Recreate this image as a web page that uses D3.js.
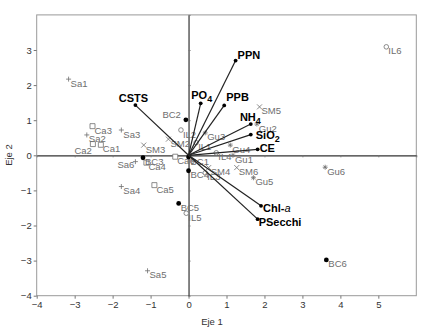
<!DOCTYPE html>
<html>
<head>
<meta charset="utf-8">
<script src="https://cdn.jsdelivr.net/npm/d3@7"></script>
<style>
  body { margin: 0; background: #fff; }
  text { font-family: "Liberation Sans", Arial, sans-serif; }
</style>
</head>
<body>
<div class="box"></div>
<script>
// sites (scores on Eje 1 / Eje 2)
const siteNames = ['Sa1','Sa2','Sa3','Sa4','Sa5','Sa6',
                   'Ca1','Ca2','Ca3','Ca4','Ca5','Ca6',
                   'BC1','BC2','BC3','BC4','BC5','BC6',
                   'IL1','IL2','IL3','IL4','IL5','IL6',
                   'Gu1','Gu2','Gu3','Gu4','Gu5','Gu6',
                   'SM2','SM3','SM4','SM5','SM6'];
const siteX = [-3.16,-2.68,-1.77,-1.77,-1.08,-1.40,
               -2.31,-2.52,-2.53,-1.11,-0.90,-0.35,
                0.00,-0.07,-1.20, 0.00,-0.26, 3.63,
                0.20,-0.20, 0.44, 0.73,-0.06, 5.21,
                1.17, 1.80, 0.44, 1.10, 1.71, 3.60,
               -0.53,-1.18, 0.53, 1.87, 1.27];
const siteY = [ 2.17, 0.58, 0.72,-0.89,-3.29,-0.18,
                0.30, 0.32, 0.83,-0.21,-0.85,-0.04,
               -0.05, 1.01,-0.07,-0.44,-1.37,-2.98,
                0.36, 0.72,-0.50, 0.07,-1.65, 3.09,
                0.00, 0.89, 0.64, 0.29,-0.64,-0.34,
                0.46, 0.29,-0.35, 1.38,-0.35];

// environmental vectors
const varNames = ['PPN','PO4','PPB','NH4','SiO2','CE','Chl-a','PSecchi','CSTS'];
const varX = [1.24, 0.32, 0.94, 1.64, 1.64, 1.82, 1.91, 1.82, -1.40];
const varY = [2.70, 1.48, 1.42, 0.89, 0.59, 0.17,-1.44,-1.82,  1.43];

const xTicks = [-4,-3,-2,-1,0,1,2,3,4,5];
const yTicks = [-4,-3,-2,-1,0,1,2,3];

const width = 427, height = 332;
const svg = d3.select('.box').append('svg')
              .attr('width', width)
              .attr('height', height);

const x = d3.scaleLinear().domain([-4, 6]).range([36.7, 416.3]);
const y = d3.scaleLinear().domain([-4, 4]).range([295.7, 14.9]);

// frame
svg.append('rect')
   .attr('x', x(-4)).attr('y', y(4))
   .attr('width', x(6) - x(-4)).attr('height', y(-4) - y(4))
   .attr('fill', 'none').attr('stroke', '#999').attr('stroke-width', 1);

// outer axes
const axB = svg.append('g').attr('transform', `translate(0,${y(-4)})`)
   .call(d3.axisBottom(x).tickValues(xTicks).tickSize(3).tickPadding(3));
const axL = svg.append('g').attr('transform', `translate(${x(-4)},0)`)
   .call(d3.axisLeft(y).tickValues(yTicks).tickSize(3).tickPadding(2));
[axB, axL].forEach(g => {
  g.select('.domain').remove();
  g.selectAll('line').attr('stroke', '#777');
  g.selectAll('text').attr('fill', '#333').style('font-size', '9.5px');
});

// zero lines
const zx = svg.append('g').attr('transform', `translate(0,${y(0)})`)
   .call(d3.axisBottom(x).tickValues(d3.range(-4, 7)).tickSizeInner(2).tickSizeOuter(0).tickFormat(''));
const zy = svg.append('g').attr('transform', `translate(${x(0)},0)`)
   .call(d3.axisRight(y).tickValues(d3.range(-4, 5)).tickSizeInner(2).tickSizeOuter(0).tickFormat(''));
[zx, zy].forEach(g => {
  g.select('.domain').attr('stroke', '#333').attr('stroke-width', 1.2);
  g.selectAll('line').attr('stroke', '#777');
});

// axis titles
svg.append('text').attr('x', 212).attr('y', 325).attr('text-anchor', 'middle')
   .attr('fill', '#333').style('font-size', '9.5px').text('Eje 1');
svg.append('text').attr('transform', 'translate(12,155) rotate(-90)').attr('text-anchor', 'middle')
   .attr('fill', '#333').style('font-size', '9.5px').text('Eje 2');

// site markers
const grey = '#6e6e6e';
const sites = siteNames.map((n, i) => ({name: n, x: siteX[i], y: siteY[i], grp: n.slice(0, 2)}));
const s = 2.5;
const shape = {
  Sa: `M${-s},0H${s}M0,${-s}V${s}`,
  SM: `M${-s},${-s}L${s},${s}M${-s},${s}L${s},${-s}`,
  Gu: `M${-s},0H${s}M0,${-s}V${s}M${-s*0.7},${-s*0.7}L${s*0.7},${s*0.7}M${-s*0.7},${s*0.7}L${s*0.7},${-s*0.7}`,
  Ca: `M${-s},${-s}H${s}V${s}H${-s}Z`
};

const pts = svg.append('g');
sites.forEach(d => {
  const g = pts.append('g').attr('transform', `translate(${x(d.x)},${y(d.y)})`);
  if (d.grp === 'BC') {
    g.append('circle').attr('r', 2.4).attr('fill', '#000');
  } else if (d.grp === 'IL') {
    g.append('circle').attr('r', 2.3).attr('fill', '#fff').attr('stroke', grey).attr('stroke-width', 0.8);
  } else {
    g.append('path').attr('d', shape[d.grp]).attr('fill', d.grp === 'Ca' ? '#fff' : 'none')
     .attr('stroke', grey).attr('stroke-width', 0.8);
  }
});

// label placement tweaks
const leftLabel = {Ca2: [-1, 9.5], Sa6: [-1, 6.5], BC2: [-5, -1.5]};
const lbl = svg.append('g');
sites.forEach(d => {
  const o = leftLabel[d.name];
  lbl.append('text')
     .attr('x', x(d.x) + (o ? o[0] : 2))
     .attr('y', y(d.y) + (o ? o[1] : 7.5))
     .attr('text-anchor', o ? 'end' : 'start')
     .attr('fill', grey).style('font-size', '9.5px')
     .text(d.name);
});

// vectors
const vecs = varNames.map((n, i) => ({name: n, x: varX[i], y: varY[i]}));
const vg = svg.append('g');
vg.selectAll('line').data(vecs).enter().append('line')
  .attr('x1', x(0)).attr('y1', y(0))
  .attr('x2', d => x(d.x)).attr('y2', d => y(d.y))
  .attr('stroke', '#222').attr('stroke-width', 1.2);
vg.selectAll('circle').data(vecs).enter().append('circle')
  .attr('cx', d => x(d.x)).attr('cy', d => y(d.y)).attr('r', 1.9).attr('fill', '#000');

const vOff = {
  'PPN': [2, -2, 'start'], 'PO4': [1, -4, 'middle'], 'PPB': [2, -4, 'start'],
  'NH4': [10, -3, 'end'], 'SiO2': [5, 4, 'start'], 'CE': [2, 3, 'start'],
  'Chl-a': [2, 6, 'start'], 'PSecchi': [1, 7, 'start'], 'CSTS': [-2, -3, 'middle']
};
vecs.forEach(d => {
  const o = vOff[d.name];
  const t = vg.append('text')
    .attr('x', x(d.x) + o[0]).attr('y', y(d.y) + o[1])
    .attr('text-anchor', o[2]).attr('fill', '#000')
    .style('font-size', '11px').style('font-weight', 'bold');
  const m = d.name.match(/^([A-Za-z]+?)(\d)$/);
  if (m) {
    t.append('tspan').text(m[1]);
    t.append('tspan').attr('dy', 3).style('font-size', '9px').text(m[2]);
  } else if (d.name === 'Chl-a') {
    t.append('tspan').text('Chl-');
    t.append('tspan').style('font-style', 'italic').style('font-weight', 'normal').text('a');
  } else {
    t.text(d.name);
  }
});
</script>
</body>
</html>
